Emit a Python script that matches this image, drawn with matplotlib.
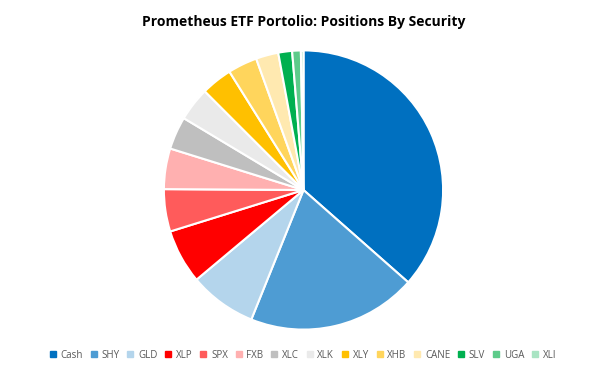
"""
Prometheus ETF Portfolio pie chart
"""

import matplotlib
matplotlib.use('Agg')
import matplotlib.pyplot as plt
from matplotlib.lines import Line2D

#---------------------------------------------------------------------------------------------------
# Data
#---------------------------------------------------------------------------------------------------

securities = ['Cash', 'SHY', 'GLD', 'XLP', 'SPX', 'FXB', 'XLC', 'XLK', 'XLY', 'XHB', 'CANE',
              'SLV', 'UGA', 'XLI']
weights = [36.5, 19.6, 7.8, 6.3, 4.9, 4.7, 3.8, 3.9, 3.6, 3.4, 2.6, 1.6, 1.0, 0.3]
colors = ['#0070C0', '#4E9CD3', '#B4D5EC', '#FF0000', '#FF5B5B', '#FFB0B0', '#BFBFBF',
          '#EAEAEA', '#FFC000', '#FFD55C', '#FFE9B0', '#00B050', '#5DCB8A', '#A9E4C3']

#---------------------------------------------------------------------------------------------------
# Plot
#---------------------------------------------------------------------------------------------------

W, H = 606, 381
fig = plt.figure(figsize=(W / 100, H / 100), dpi=100)

# pie centred at (303.5, 190) px with radius 141 px
r = 141
cx, cy = 303.5, 190
ax = fig.add_axes([(cx - r) / W, (H - cy - r) / H, 2 * r / W, 2 * r / H])
ax.pie(weights, colors=colors, startangle=90, counterclock=False, radius=1,
       wedgeprops=dict(edgecolor='white', linewidth=1.5))
ax.set_xlim(-1.01, 1.01)
ax.set_ylim(-1.01, 1.01)
ax.set_aspect('equal')
ax.axis('off')

fig.text(cx / W, 1 - 22 / H, 'Prometheus ETF Portolio: Positions By Security',
         ha='center', va='center', fontsize=10, fontweight='bold', family='Open Sans')

handles = [Line2D([], [], marker='s', ls='none', markersize=4, markerfacecolor=c,
                  markeredgecolor=c) for c in colors]
leg = fig.legend(handles, securities, loc='center', bbox_to_anchor=(0.5, 1 - 355 / H),
                 ncol=len(securities), frameon=False, fontsize=7, handlelength=0.6,
                 handletextpad=0.5, columnspacing=0.8, labelcolor='#595959')
for t in leg.get_texts():
    t.set_family('Open Sans')

fig.savefig('out.png', dpi=100)
